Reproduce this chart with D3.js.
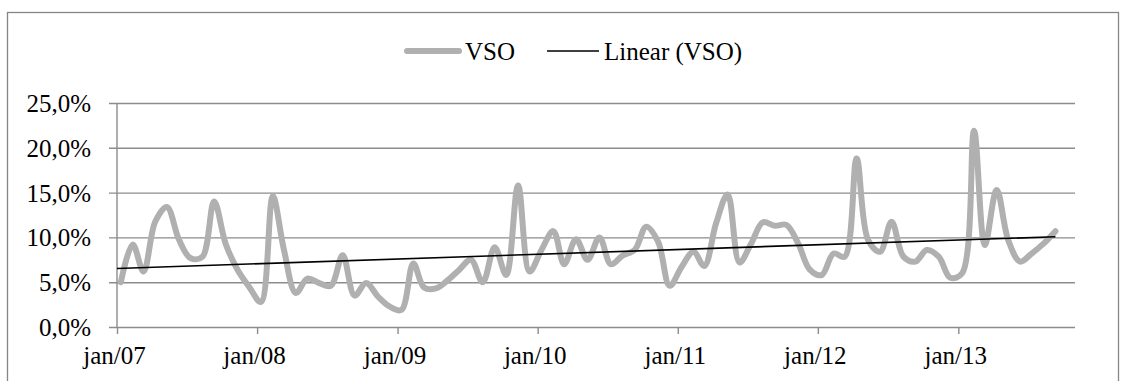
<!DOCTYPE html>
<html>
<head>
<meta charset="utf-8">
<script src="https://cdn.jsdelivr.net/npm/d3@7"></script>
<style>
  body { margin: 0; background: #fff; }
  svg text { font-family: "Liberation Serif", "Times New Roman", serif; fill: #000; }
</style>
</head>
<body>
<svg id="chart" width="1131" height="381"></svg>
<script>

////////////////////////// DATA //////////////////////////

// monthly VSO values (%), jan/07 .. sep/13, observed around the 11th of each month
const vso = [
  5.0, 9.2, 6.2, 11.8, 13.4, 9.8, 7.7, 7.8, 14.0, 9.3, 6.4, 4.5,
  2.8, 14.6, 8.6, 3.8, 5.4, 4.9, 4.6, 8.0, 3.5, 4.9, 3.4, 2.3,
  1.9, 7.1, 4.4, 4.3, 5.2, 6.4, 7.5, 5.0, 8.9, 5.8, 15.8, 6.2,
  8.6, 10.7, 7.0, 9.8, 7.5, 10.0, 7.0, 8.0, 8.6, 11.2, 9.5, 4.6,
  6.7, 8.4, 6.8, 11.6, 14.8, 7.2, 9.3, 11.7, 11.3, 11.4, 9.3, 6.4,
  5.8, 8.2, 7.85, 18.8, 9.7, 8.4, 11.75, 7.85, 7.3, 8.6, 7.85, 5.5,
  6.0, 21.9, 9.15, 15.3, 9.7, 7.3, 8.2, 9.3, 10.7
];
const months = d3.timeMonth.range(new Date(2007, 0, 1), new Date(2013, 9, 1));
const obsDay = 11;

const xTickDates = [2007, 2008, 2009, 2010, 2011, 2012, 2013].map(y => new Date(y, 0, 1));
const xTickLabels = ["jan/07", "jan/08", "jan/09", "jan/10", "jan/11", "jan/12", "jan/13"];
const yTicks = [0, 5, 10, 15, 20, 25];

const seriesName = "VSO";
const trendName = "Linear (VSO)";

////////////////////////// SETUP //////////////////////////

const svg = d3.select("#chart");
const margin = { left: 117, right: 1075, top: 103, bottom: 327 };

const data = vso.map((v, i) => ({
  date: new Date(months[i].getFullYear(), months[i].getMonth(), obsDay),
  value: v
}));

const xScale = d3.scaleTime()
  .domain([new Date(2007, 0, 1), new Date(2013, 10, 1)])
  .range([margin.left, margin.right]);
const yScale = d3.scaleLinear()
  .domain([0, 25])
  .range([margin.bottom, margin.top]);

// least squares trend on date values
const xs = data.map(d => +d.date);
const xMean = d3.mean(xs);
const yMean = d3.mean(vso);
const slope = d3.sum(data, d => (+d.date - xMean) * (d.value - yMean)) /
  d3.sum(xs, x => (x - xMean) ** 2);
const trendAt = (t) => yMean + slope * (+t - xMean);

////////////////////////// DRAW //////////////////////////

// outer frame
svg.append("rect")
  .attr("x", 7.5).attr("y", 12.5)
  .attr("width", 1111).attr("height", 420)
  .attr("fill", "#fff")
  .attr("stroke", "#868686")
  .attr("stroke-width", 1.3);

// grid + y axis
const yAxis = d3.axisLeft(yScale)
  .tickValues(yTicks)
  .tickSize(-(margin.right - margin.left))
  .tickPadding(26)
  .tickFormat(d => d3.format(".1f")(d).replace(".", ",") + "%");

const yG = svg.append("g")
  .attr("transform", `translate(${margin.left},0)`)
  .call(yAxis);
yG.select(".domain").remove();
yG.selectAll(".tick line")
  .attr("x1", -8)
  .attr("stroke", "#8c8c8c")
  .attr("stroke-width", 1.4);
yG.selectAll(".tick text")
  .style("font-size", "25px")
  .attr("dy", "0.34em");

// vertical axis line
svg.append("line")
  .attr("x1", margin.left).attr("x2", margin.left)
  .attr("y1", margin.top).attr("y2", margin.bottom)
  .attr("stroke", "#8c8c8c")
  .attr("stroke-width", 1.4);

// x axis
const xAxis = d3.axisBottom(xScale)
  .tickValues(xTickDates)
  .tickSize(7)
  .tickPadding(12)
  .tickFormat((d, i) => xTickLabels[i]);

const xG = svg.append("g")
  .attr("transform", `translate(0,${margin.bottom})`)
  .call(xAxis);
xG.select(".domain").remove();
xG.selectAll(".tick line")
  .attr("stroke", "#8c8c8c")
  .attr("stroke-width", 1.4);
xG.selectAll(".tick text")
  .style("font-size", "25px")
  .attr("dx", "-3");

// VSO line (smoothed)
const line = d3.line()
  .x(d => xScale(d.date))
  .y(d => yScale(d.value))
  .curve(d3.curveCatmullRom.alpha(0.5));

svg.append("path")
  .datum(data)
  .attr("d", line)
  .attr("fill", "none")
  .attr("stroke", "#b0b0b0")
  .attr("stroke-width", 6)
  .attr("stroke-linecap", "round")
  .attr("stroke-linejoin", "round");

// linear trend
const tStart = xScale.domain()[0];
const tEnd = data[data.length - 1].date;
svg.append("line")
  .attr("x1", xScale(tStart)).attr("y1", yScale(trendAt(tStart)))
  .attr("x2", xScale(tEnd)).attr("y2", yScale(trendAt(tEnd)))
  .attr("stroke", "#000")
  .attr("stroke-width", 1.6);

// legend
const legend = svg.append("g");
legend.append("line")
  .attr("x1", 407).attr("x2", 459).attr("y1", 51).attr("y2", 51)
  .attr("stroke", "#b0b0b0").attr("stroke-width", 6).attr("stroke-linecap", "round");
legend.append("text")
  .attr("x", 465).attr("y", 59.5)
  .style("font-size", "25px")
  .text(seriesName);
legend.append("line")
  .attr("x1", 547).attr("x2", 599).attr("y1", 51).attr("y2", 51)
  .attr("stroke", "#000").attr("stroke-width", 1.6);
legend.append("text")
  .attr("x", 604).attr("y", 59.5)
  .style("font-size", "25px")
  .text(trendName);

</script>
</body>
</html>
